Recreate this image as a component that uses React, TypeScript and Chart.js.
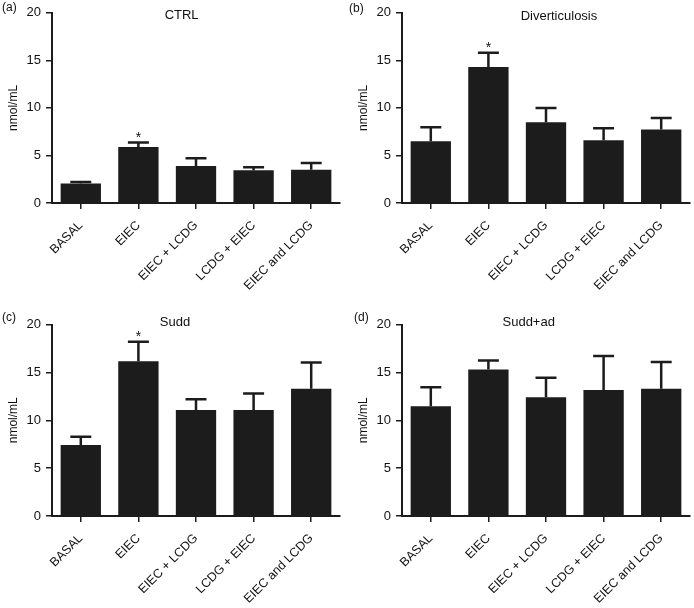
import { useEffect, useRef } from "react";
import { Chart, registerables } from "chart.js";

Chart.register(...registerables);

// ---------- data ----------
const categories = ["BASAL", "EIEC", "EIEC + LCDG", "LCDG + EIEC", "EIEC and LCDG"];
const yTickValues = [0, 5, 10, 15, 20];
const yLabel = "nmol/mL";

const ctrlMean = [2.05, 5.9, 3.9, 3.45, 3.5];
const ctrlUpper = [2.2, 6.35, 4.7, 3.75, 4.2];
const ctrlStars = [1];

const divMean = [6.5, 14.3, 8.5, 6.6, 7.73];
const divUpper = [7.97, 15.8, 10.0, 7.87, 8.95];
const divStars = [1];

const suddMean = [7.41, 16.17, 11.06, 11.06, 13.29];
const suddUpper = [8.28, 18.19, 12.2, 12.8, 16.03];
const suddStars = [1];

const suddAdMean = [11.45, 15.29, 12.39, 13.16, 13.3];
const suddAdUpper = [13.44, 16.23, 14.45, 16.72, 16.09];
const suddAdStars: number[] = [];

// ---------- layout / style ----------
const FONT = "'Liberation Sans', Arial, Helvetica, sans-serif";
const BAR = "#1c1c1c";
const INK = "#111111";
const W = 347;
const H = 304;

type Panel = {
  label: string;
  title: string;
  mean: number[];
  upper: number[];
  stars: number[];
  x: number;
  y: number;
  yAxisWidth: number;
  padRight: number;
  padTop: number;
  xAxisHeight: number;
  yTitlePad: number;
  labelX: number;
  labelY: number;
  titleFrac: number;
  titleY: number;
};

const panels: Panel[] = [
  { label: "(a)", title: "CTRL", mean: ctrlMean, upper: ctrlUpper, stars: ctrlStars, x: 0, y: 0, yAxisWidth: 52, padRight: 7, padTop: 12.5, xAxisHeight: 101, yTitlePad: 6, labelX: 2, labelY: 8, titleFrac: 0.45, titleY: 15.5 },
  { label: "(b)", title: "Diverticulosis", mean: divMean, upper: divUpper, stars: divStars, x: 347, y: 0, yAxisWidth: 55, padRight: 4, padTop: 12.5, xAxisHeight: 101, yTitlePad: 9, labelX: 2, labelY: 9, titleFrac: 0.545, titleY: 16 },
  { label: "(c)", title: "Sudd", mean: suddMean, upper: suddUpper, stars: suddStars, x: 0, y: 304, yAxisWidth: 52, padRight: 7, padTop: 20.5, xAxisHeight: 92, yTitlePad: 6, labelX: 2, labelY: 13.5, titleFrac: 0.427, titleY: 18 },
  { label: "(d)", title: "Sudd+ad", mean: suddAdMean, upper: suddAdUpper, stars: suddAdStars, x: 347, y: 304, yAxisWidth: 55, padRight: 4, padTop: 20.5, xAxisHeight: 92, yTitlePad: 9, labelX: 7, labelY: 14, titleFrac: 0.44, titleY: 18 },
];

const decorPlugin = {
  id: "decor",
  afterDatasetsDraw(chart: any, _args: any, opts: any) {
    const p: Panel = opts.panel;
    const ctx = chart.ctx;
    const yScale = chart.scales.y;
    const meta = chart.getDatasetMeta(0);
    ctx.save();
    ctx.strokeStyle = BAR;
    ctx.fillStyle = INK;
    ctx.lineWidth = 2.5;
    meta.data.forEach((bar: any, i: number) => {
      const yTop = yScale.getPixelForValue(p.upper[i]);
      const half = bar.width * 0.26;
      ctx.beginPath();
      ctx.moveTo(bar.x, bar.y);
      ctx.lineTo(bar.x, yTop);
      ctx.moveTo(bar.x - half, yTop);
      ctx.lineTo(bar.x + half, yTop);
      ctx.stroke();
      if (p.stars.includes(i)) {
        ctx.font = `14px ${FONT}`;
        ctx.textAlign = "center";
        ctx.textBaseline = "alphabetic";
        ctx.fillText("*", bar.x, yTop - 1);
      }
    });
    ctx.restore();
  },
  afterDraw(chart: any, _args: any, opts: any) {
    const p: Panel = opts.panel;
    const ctx = chart.ctx;
    const area = chart.chartArea;
    ctx.save();
    ctx.fillStyle = INK;
    ctx.textBaseline = "middle";
    ctx.font = `12px ${FONT}`;
    ctx.textAlign = "left";
    ctx.fillText(p.label, p.labelX, p.labelY);
    ctx.font = `13px ${FONT}`;
    ctx.textAlign = "center";
    ctx.fillText(p.title, area.left + p.titleFrac * (area.right - area.left), p.titleY);
    ctx.restore();
  },
};

function PanelChart({ panel }: { panel: Panel }) {
  const ref = useRef<HTMLCanvasElement | null>(null);
  useEffect(() => {
    if (!ref.current) return;
    const chart = new Chart(ref.current, {
      type: "bar",
      data: {
        labels: categories,
        datasets: [
          {
            data: panel.mean,
            backgroundColor: BAR,
            borderWidth: 0,
            barPercentage: 0.7,
            categoryPercentage: 1,
          },
        ],
      },
      options: {
        responsive: false,
        animation: false,
        devicePixelRatio: 1,
        layout: { padding: { left: 0, right: panel.padRight, top: panel.padTop, bottom: 0 } },
        plugins: {
          legend: { display: false },
          tooltip: { enabled: false },
          decor: { panel },
        } as any,
        scales: {
          x: {
            offset: true,
            afterFit: (s: any) => {
              s.height = panel.xAxisHeight;
            },
            grid: {
              display: true,
              drawOnChartArea: false,
              drawTicks: true,
              tickLength: 6,
              offset: false,
              color: BAR,
              lineWidth: 1.5,
            },
            border: { display: true, color: BAR, width: 2 },
            ticks: {
              autoSkip: false,
              minRotation: 45,
              maxRotation: 45,
              padding: 9,
              color: INK,
              font: { family: FONT, size: 12.5 },
            },
          },
          y: {
            min: 0,
            max: 20,
            afterFit: (s: any) => {
              s.width = panel.yAxisWidth;
            },
            afterBuildTicks: (s: any) => {
              s.ticks = yTickValues.map((v) => ({ value: v }));
            },
            grid: {
              display: true,
              drawOnChartArea: false,
              drawTicks: true,
              tickLength: 6,
              color: BAR,
              lineWidth: 1.5,
            },
            border: { display: true, color: BAR, width: 2 },
            ticks: {
              padding: 5,
              color: INK,
              font: { family: FONT, size: 13 },
            },
            title: {
              display: true,
              text: yLabel,
              color: INK,
              font: { family: FONT, size: 12 },
              padding: { top: panel.yTitlePad, bottom: 0 },
            },
          },
        },
      },
      plugins: [decorPlugin],
    });
    return () => chart.destroy();
  }, [panel]);
  return (
    <div style={{ position: "absolute", left: panel.x, top: panel.y, width: W, height: H }}>
      <canvas ref={ref} width={W} height={H} style={{ display: "block", width: W, height: H }} />
    </div>
  );
}

export default function App() {
  return (
    <div style={{ position: "absolute", left: 0, top: 0, width: 694, height: 608, background: "#fff" }}>
      {panels.map((p) => (
        <PanelChart key={p.label} panel={p} />
      ))}
    </div>
  );
}
